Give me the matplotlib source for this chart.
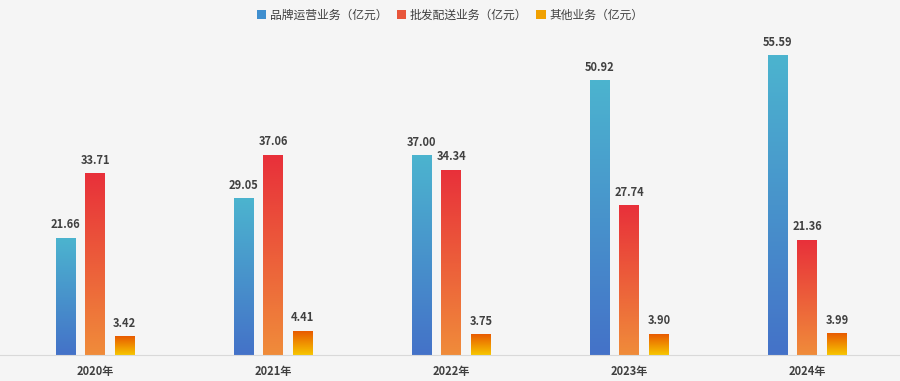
import numpy as np
import matplotlib
matplotlib.use('Agg')
import matplotlib.pyplot as plt
from matplotlib.colors import LinearSegmentedColormap
from matplotlib.patches import Patch

plt.rcParams['font.family'] = ['Noto Sans CJK SC', 'DejaVu Sans']

years = ['2020年', '2021年', '2022年', '2023年', '2024年']
series = ['品牌运营业务（亿元）', '批发配送业务（亿元）', '其他业务（亿元）']
brand = [21.66, 29.05, 37.00, 50.92, 55.59]
wholesale = [33.71, 37.06, 34.34, 27.74, 21.36]
other = [3.42, 4.41, 3.75, 3.90, 3.99]

# (bottom colour, top colour)
grads = [('#4472c8', '#4cb4cf'), ('#f08c3a', '#e8303a'), ('#f7c600', '#e85a00')]
legend_cols = ['#3f8fcf', '#e8553a', '#f0a000']

fig = plt.figure(figsize=(9, 3.81), dpi=100)
fig.patch.set_facecolor('#f5f5f5')
ax = fig.add_axes([0, 26/381, 1, 330/381])
ax.set_facecolor('#f5f5f5')

w = 0.112
offs = [-0.166, 0.0, 0.166]
x = np.arange(len(years))
grad = np.linspace(0, 1, 256).reshape(-1, 1)

for vals, off, (c0, c1) in zip([brand, wholesale, other], offs, grads):
    cmap = LinearSegmentedColormap.from_list('g', [c0, c1])
    for xi, v in zip(x, vals):
        ax.imshow(grad, cmap=cmap, origin='lower', aspect='auto',
                  extent=[xi + off - w/2, xi + off + w/2, 0, v], zorder=2)
        ax.text(xi + off, v + 1.3, f'{v:.2f}', ha='center', va='bottom',
                fontsize=8, fontweight='bold', color='#404040')

ax.set_xlim(-0.534, 4.52)
ax.set_ylim(0, 61.3)
ax.set_xticks(x)
ax.set_xticklabels(years, fontsize=8, fontweight='bold', color='#404040')
ax.tick_params(axis='x', length=0, pad=7)
ax.set_yticks([])
for s in ['top', 'left', 'right']:
    ax.spines[s].set_visible(False)
ax.spines['bottom'].set_color('#d9d9d9')

handles = [Patch(facecolor=c, label=l) for c, l in zip(legend_cols, series)]
fig.legend(handles=handles, loc='upper center', bbox_to_anchor=(0.5, 1.005), ncol=3,
           frameon=False, fontsize=8.5, handlelength=0.8, handleheight=0.8,
           handletextpad=0.3, columnspacing=0.8, labelcolor='#404040')

fig.savefig('out.png', dpi=100, facecolor=fig.get_facecolor())
